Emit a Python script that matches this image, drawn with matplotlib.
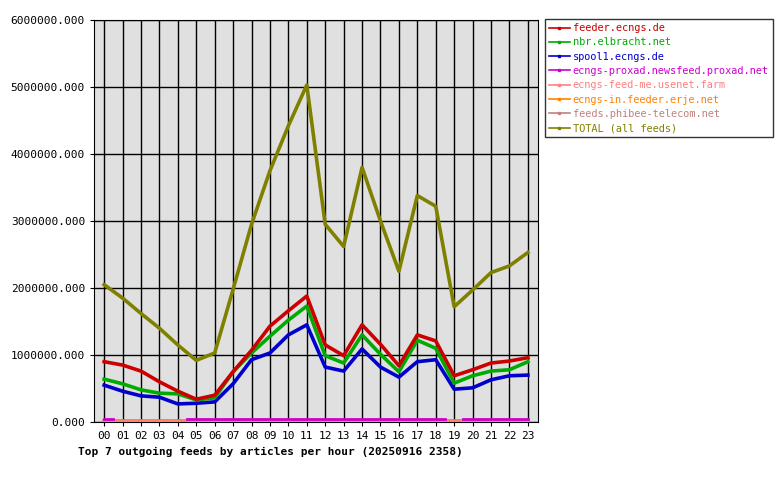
import numpy as np
import matplotlib
matplotlib.use("Agg")
import matplotlib.pyplot as plt

plt.rcParams["font.family"] = "DejaVu Sans Mono"

hours = [f"{h:02d}" for h in range(24)]
nan = np.nan

feeder = [0.90, 0.85, 0.76, 0.60, 0.46, 0.34, 0.40, 0.75, 1.07, 1.43, 1.66, 1.88,
          1.15, 0.99, 1.45, 1.16, 0.84, 1.30, 1.21, 0.69, 0.78, 0.88, 0.91, 0.96]
nbr = [0.64, 0.57, 0.48, 0.43, 0.42, 0.33, 0.36, 0.75, 1.03, 1.28, 1.52, 1.73,
       0.99, 0.88, 1.30, 1.01, 0.75, 1.22, 1.10, 0.58, 0.69, 0.76, 0.78, 0.90]
spool = [0.55, 0.46, 0.39, 0.37, 0.27, 0.28, 0.30, 0.57, 0.93, 1.03, 1.30, 1.45,
         0.82, 0.76, 1.09, 0.82, 0.67, 0.90, 0.93, 0.49, 0.51, 0.63, 0.69, 0.70]
proxad = [0.04, nan, nan, nan, nan, 0.04, 0.04, 0.04, 0.04, 0.04, 0.04, 0.04,
          0.04, 0.04, 0.04, 0.04, 0.04, 0.04, 0.04, nan, 0.04, 0.04, 0.04, 0.04]
usenet = [0.0] * 24
erje = [0.0] * 24
phibee = [0.01] * 24
total = [2.05, 1.85, 1.62, 1.40, 1.15, 0.92, 1.03, 1.98, 2.95, 3.75, 4.42, 5.03,
         2.95, 2.62, 3.80, 3.00, 2.25, 3.38, 3.22, 1.72, 1.97, 2.23, 2.33, 2.53]

series = [
    ("feeder.ecngs.de", feeder, "#cc0000"),
    ("nbr.elbracht.net", nbr, "#00aa00"),
    ("spool1.ecngs.de", spool, "#0000cc"),
    ("ecngs-proxad.newsfeed.proxad.net", proxad, "#cc00cc"),
    ("ecngs-feed-me.usenet.farm", usenet, "#ff8080"),
    ("ecngs-in.feeder.erje.net", erje, "#ff8000"),
    ("feeds.phibee-telecom.net", phibee, "#c08080"),
    ("TOTAL (all feeds)", total, "#808000"),
]

fig = plt.figure(figsize=(7.8, 4.8), dpi=100)
ax = fig.add_axes([94 / 780, 1 - 422 / 480, 444 / 780, 402 / 480])
ax.set_facecolor("#e0e0e0")
x = np.arange(24)
handles = []
for name, vals, col in reversed(series):
    v = np.array(vals) * 1e6
    if name.startswith("ecngs-proxad"):
        ax.step(x, v, where="mid", color=col, lw=2, zorder=3)
    else:
        ax.plot(x, v, color=col, lw=2.6, zorder=3)
    h, = ax.plot([], [], color=col, lw=1.2, marker="s", ms=2)
    handles.append((h, name, col))
handles.reverse()

ax.set_xlim(-0.55, 23.55)
ax.set_ylim(0, 6e6)
ax.set_xticks(x)
ax.set_xticklabels(hours, fontsize=8)
ax.set_yticks(np.arange(0, 6e6 + 1, 1e6))
ax.set_yticklabels([f"{int(t)}.000" for t in np.arange(0, 6e6 + 1, 1e6)], fontsize=8)
ax.grid(True, color="black", lw=1)
ax.tick_params(length=3)
ax.set_axisbelow(True)

leg = fig.legend([h for h, _, _ in handles], [n for _, n, _ in handles],
                 loc="upper left", bbox_to_anchor=(545 / 780, 1 - 19 / 480),
                 fontsize=7.4, frameon=True, fancybox=False, edgecolor="black",
                 handlelength=2, handletextpad=0.3, borderpad=0.4, labelspacing=0.42,
                 borderaxespad=0)
leg.get_frame().set_linewidth(1)
for t, (_, _, col) in zip(leg.get_texts(), handles):
    t.set_color(col)

fig.text(78 / 780, 1 - 452 / 480, "Top 7 outgoing feeds by articles per hour (20250916 2358)",
         fontsize=8, fontweight="bold", va="center")
fig.savefig("out.png", dpi=100)
